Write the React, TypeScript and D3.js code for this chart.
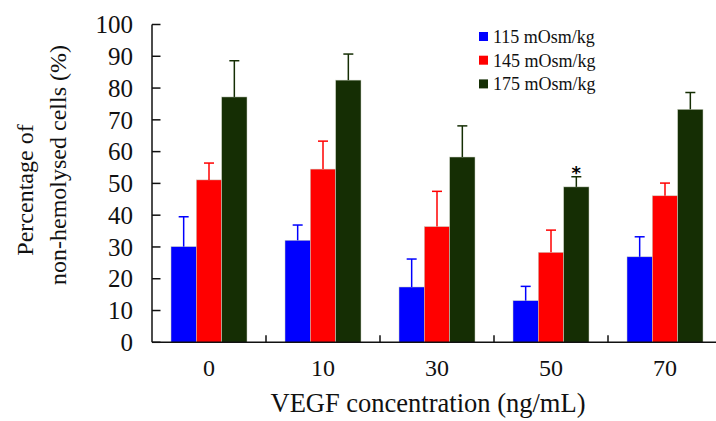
import React from "react";
import * as d3 from "d3";

const categories = ["0", "10", "30", "50", "70"];
const seriesNames = ["115 mOsm/kg", "145 mOsm/kg", "175 mOsm/kg"];
const seriesColors = ["#0000ff", "#ff0000", "#152e04"];
const values115 = [30.1, 32.1, 17.4, 13.1, 26.9];
const errors115 = [9.4, 4.8, 8.8, 4.5, 6.3];
const values145 = [51.1, 54.5, 36.4, 28.3, 46.1];
const errors145 = [5.3, 8.8, 11.1, 7.0, 4.0];
const values175 = [77.2, 82.5, 58.3, 48.9, 73.3];
const errors175 = [11.4, 8.2, 9.8, 3.2, 5.3];
const yTicks = [0, 10, 20, 30, 40, 50, 60, 70, 80, 90, 100];
const significance = [{ category: "50", series: 2, label: "*" }];

const allValues = [values115, values145, values175];
const allErrors = [errors115, errors145, errors175];

const W = 716;
const H = 421;
const x0 = 152;
const xEnd = 722;
const y0 = 342.3;
const yTop = 24.5;
const FONT = "'Liberation Serif', 'Times New Roman', serif";

export default function App() {
  const x = d3.scaleBand<string>().domain(categories).range([x0, xEnd]).paddingInner(0).paddingOuter(0);
  const xs = d3
    .scaleBand<string>()
    .domain(seriesNames)
    .range([0, x.bandwidth()])
    .paddingInner(0)
    .paddingOuter(0.75);
  const y = d3.scaleLinear().domain([0, 100]).range([y0, yTop]);
  const capW = 10;

  return (
    <svg width={W} height={H} style={{ position: "absolute", left: 0, top: 0, background: "#fff" }}>
      {/* bars */}
      {seriesNames.map((s, si) =>
        categories.map((c, ci) => {
          const v = allValues[si][ci];
          const bx = (x(c) as number) + (xs(s) as number);
          return (
            <rect
              key={`b-${si}-${ci}`}
              x={bx}
              y={y(v)}
              width={xs.bandwidth()}
              height={y(0) - y(v)}
              fill={seriesColors[si]}
              stroke="#c9cfc0"
              strokeWidth={0.5}
            />
          );
        })
      )}
      {/* error bars */}
      {seriesNames.map((s, si) =>
        categories.map((c, ci) => {
          const v = allValues[si][ci];
          const e = allErrors[si][ci];
          const cx = (x(c) as number) + (xs(s) as number) + xs.bandwidth() / 2;
          return (
            <g key={`e-${si}-${ci}`} stroke={seriesColors[si]} strokeWidth={1.5}>
              <line x1={cx} x2={cx} y1={y(v)} y2={y(v + e)} />
              <line x1={cx - capW / 2} x2={cx + capW / 2} y1={y(v + e)} y2={y(v + e)} />
            </g>
          );
        })
      )}
      {/* significance */}
      {significance.map((sg, i) => {
        const si = sg.series;
        const ci = categories.indexOf(sg.category);
        const cx = (x(sg.category) as number) + (xs(seriesNames[si]) as number) + xs.bandwidth() / 2;
        const top = y(allValues[si][ci] + allErrors[si][ci]);
        return (
          <text key={`s-${i}`} x={cx} y={top + 2} textAnchor="middle" fontFamily="'DejaVu Sans', sans-serif" fontWeight="bold" fontSize={18} fill="#000">
            {sg.label}
          </text>
        );
      })}
      {/* y axis */}
      <line x1={x0} x2={x0} y1={y0} y2={yTop} stroke="#111" strokeWidth={1.5} />
      {yTicks.map((t) => (
        <g key={`yt-${t}`}>
          <line x1={x0} x2={x0 + 8.5} y1={y(t)} y2={y(t)} stroke="#111" strokeWidth={1.5} />
          <text x={x0 - 19} y={y(t)} dy="0.35em" textAnchor="end" fontFamily={FONT} fontSize={25} fill="#111">
            {t}
          </text>
        </g>
      ))}
      {/* x axis */}
      <line x1={x0} x2={W} y1={y0} y2={y0} stroke="#111" strokeWidth={1.5} />
      {categories.slice(1).map((c) => (
        <line key={`xt-${c}`} x1={x(c) as number} x2={x(c) as number} y1={y0} y2={y0 - 7} stroke="#111" strokeWidth={1.5} />
      ))}
      {categories.map((c) => (
        <text key={`xl-${c}`} x={(x(c) as number) + x.bandwidth() / 2} y={376} textAnchor="middle" fontFamily={FONT} fontSize={24} fill="#111">
          {c}
        </text>
      ))}
      <text x={428} y={412} textAnchor="middle" fontFamily={FONT} fontSize={26.5} fill="#111">
        VEGF concentration (ng/mL)
      </text>
      {/* y title */}
      <text transform="translate(33,190) rotate(-90)" textAnchor="middle" fontFamily={FONT} fontSize={24} fill="#111">
        Percentage of
      </text>
      <text transform="translate(66,165) rotate(-90)" textAnchor="middle" fontFamily={FONT} fontSize={24} fill="#111">
        non-hemolysed cells (%)
      </text>
      {/* legend */}
      {seriesNames.map((s, i) => (
        <g key={`lg-${i}`} transform={`translate(479,${36.5 + i * 23.7})`}>
          <rect x={0} y={-4.5} width={9} height={9} fill={seriesColors[i]} />
          <text x={14} y={0} dy="0.35em" fontFamily={FONT} fontSize={18} fill="#111">
            {s}
          </text>
        </g>
      ))}
    </svg>
  );
}
